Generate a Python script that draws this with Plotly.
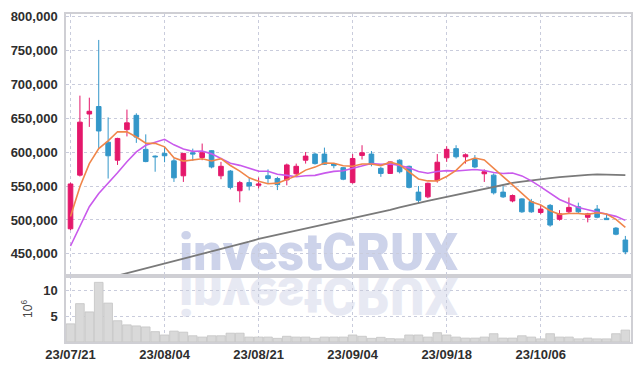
import plotly.graph_objects as go
from plotly.subplots import make_subplots

dates = [
    "2023-07-21", "2023-07-24", "2023-07-25", "2023-07-26", "2023-07-27", "2023-07-28",
    "2023-07-31", "2023-08-01", "2023-08-02", "2023-08-03", "2023-08-04",
    "2023-08-07", "2023-08-08", "2023-08-09", "2023-08-10", "2023-08-11",
    "2023-08-14", "2023-08-16", "2023-08-17", "2023-08-18", "2023-08-21",
    "2023-08-22", "2023-08-23", "2023-08-24", "2023-08-25", "2023-08-28",
    "2023-08-29", "2023-08-30", "2023-08-31", "2023-09-01", "2023-09-04",
    "2023-09-05", "2023-09-06", "2023-09-07", "2023-09-08", "2023-09-11",
    "2023-09-12", "2023-09-13", "2023-09-14", "2023-09-15", "2023-09-18",
    "2023-09-19", "2023-09-20", "2023-09-21", "2023-09-22", "2023-09-25",
    "2023-09-26", "2023-09-27", "2023-10-04", "2023-10-05", "2023-10-06",
    "2023-10-10", "2023-10-11", "2023-10-12", "2023-10-13", "2023-10-16",
    "2023-10-17", "2023-10-18", "2023-10-19", "2023-10-20",
]

open_ = [487000, 566000, 656000, 667000, 614500, 588000, 633000, 654000, 604000, 594000,
         598000, 587000, 565000, 599000, 592000, 602000, 565000, 572000, 543000, 555000,
         551000, 565000, 561000, 559000, 568000, 588000, 597000, 597000, 583000, 577000,
         555000, 595000, 597000, 576000, 568500, 588000, 579000, 541000, 534000, 558000,
         591500, 605000, 593000, 589000, 568000, 566000, 541000, 528000, 531000, 527000,
         511000, 521500, 501000, 512000, 519500, 504000, 516000, 502500, 488000, 470500]
high = [555000, 683000, 680000, 765000, 651000, 621000, 662500, 657000, 626000, 595000,
        607500, 590500, 598000, 605000, 612500, 603000, 585500, 573500, 557500, 562000,
        562500, 574500, 563500, 583000, 583000, 600000, 599000, 606500, 584000, 578000,
        597000, 610000, 601500, 578000, 586000, 589500, 580000, 550000, 555000, 597000,
        608500, 610000, 598000, 595500, 574500, 568500, 550000, 537500, 532000, 531000,
        522000, 523500, 514500, 533000, 525500, 510500, 522000, 507500, 489500, 476500]
low = [485000, 564000, 637000, 606000, 561000, 581000, 623000, 613500, 585000, 571000,
       585000, 556000, 556000, 587000, 588000, 576000, 560000, 545000, 526000, 543500,
       546500, 554500, 544000, 551000, 563500, 583000, 581500, 581000, 576000, 558500,
       553500, 589000, 579000, 563500, 568000, 568500, 546500, 525000, 532000, 555000,
       585500, 590500, 583000, 576500, 556000, 537500, 532500, 526000, 510500, 510500,
       508500, 490000, 499000, 509000, 509500, 496500, 502500, 500000, 477500, 449500]
close = [553000, 644000, 660000, 631000, 594500, 620000, 643000, 622000, 586000, 593000,
         594500, 562000, 598000, 597000, 599000, 578000, 579000, 548000, 555000, 550000,
         553000, 561000, 552000, 581000, 579000, 594000, 583000, 582000, 580000, 560000,
         590500, 599000, 582000, 568500, 585500, 571000, 548000, 529000, 554000, 585000,
         604000, 593000, 596000, 578000, 571000, 540000, 534000, 536000, 512000, 512000,
         516000, 492500, 509000, 518500, 512000, 509000, 504000, 500500, 479000, 453000]

ma5 = [505000, 549000, 583000, 605000, 616500, 629900, 629700, 622100, 613100, 612800,
       607700, 591500, 586700, 588900, 590100, 586800, 590200, 580200, 571800, 562000,
       557000, 553400, 554200, 559400, 565200, 573400, 577800, 583800, 583600, 579800,
       579100, 582300, 582300, 580000, 585100, 581200, 571000, 560400, 557500, 557400,
       564000, 573000, 586400, 591200, 588400, 575600, 563800, 551800, 538600, 526800,
       522000, 513700, 508300, 509600, 509600, 508200, 510500, 508800, 500900, 489100]
ma10 = [461700, 490000, 519500, 539000, 553800, 569400, 585600, 600200, 610000, 614700,
        618800, 610600, 604400, 601000, 601500, 597300, 590900, 583500, 580400, 576100,
        571900, 571800, 567200, 565600, 563600, 565200, 565600, 569000, 571500, 572500,
        576300, 580100, 583100, 581800, 582500, 580200, 576700, 571400, 568800, 571300,
        572600, 572000, 573400, 574400, 572900, 569800, 568400, 569100, 564900, 557600,
        548800, 538800, 530100, 524100, 518200, 515100, 512100, 508600, 505300, 499400]
ma_long = [400000, 404000, 407500, 411000, 414500, 418000, 421500, 425000, 428500, 432000,
           435500, 439000, 442500, 446000, 449500, 453000, 456500, 460000, 463500, 468000,
           472000, 475000, 478000, 481000, 484000, 487000, 490000, 493000, 496500, 500000,
           503000, 506000, 509000, 512000, 515000, 518500, 522000, 525000, 528000, 531000,
           534000, 537000, 540000, 543500, 546500, 549500, 552000, 554500, 556500, 558500,
           560000, 561500, 563000, 564500, 565500, 566500, 567000, 567000, 566500, 566000]

volume_m = [3.5, 7.4, 5.8, 11.5, 7.5, 4.1, 3.3, 3.1, 2.9, 2.0,
            1.35, 2.1, 1.9, 1.2, 0.95, 1.2, 1.2, 1.7, 1.7, 0.95,
            0.95, 0.95, 0.7, 1.1, 0.95, 0.95, 0.7, 0.95, 0.95, 0.95,
            1.35, 1.1, 0.7, 0.9, 0.65, 0.6, 1.35, 1.35, 0.95, 1.8,
            1.35, 0.95, 0.75, 0.75, 0.95, 1.6, 0.75, 0.75, 1.2, 0.95,
            0.6, 1.6, 0.95, 0.95, 0.6, 0.75, 0.6, 0.6, 1.6, 2.3]

tick_dates = ["2023-07-21", "2023-08-04", "2023-08-21", "2023-09-04", "2023-09-18", "2023-10-06"]
tick_labels = ["23/07/21", "23/08/04", "23/08/21", "23/09/04", "23/09/18", "23/10/06"]
price_ticks = [450000, 500000, 550000, 600000, 650000, 700000, 750000, 800000]
volume_ticks = [5, 10]

RED = "#E4186B"
BLUE = "#3397C9"
GRID = "#C9CCDC"
FRAME = "#CFCFD4"
TXT = "#2E2E2E"
FONT = "Liberation Sans"

vol_frac = 0.2016
fig = make_subplots(rows=2, cols=1, shared_xaxes=True, vertical_spacing=0,
                    row_heights=[1 - vol_frac, vol_frac])

fig.add_trace(go.Scatter(x=dates, y=ma_long, mode="lines",
                         line=dict(color="#7A7A7A", width=1.8), hoverinfo="skip"), row=1, col=1)
fig.add_trace(go.Candlestick(x=dates, open=open_, high=high, low=low, close=close,
                             increasing=dict(line=dict(color=RED, width=1), fillcolor=RED),
                             decreasing=dict(line=dict(color=BLUE, width=1), fillcolor=BLUE),
                             whiskerwidth=0), row=1, col=1)
fig.add_trace(go.Scatter(x=dates, y=ma10, mode="lines",
                         line=dict(color="#C95AEC", width=1.6), hoverinfo="skip"), row=1, col=1)
fig.add_trace(go.Scatter(x=dates, y=ma5, mode="lines",
                         line=dict(color="#F0864A", width=1.6), hoverinfo="skip"), row=1, col=1)
fig.add_trace(go.Bar(x=dates, y=volume_m, marker=dict(color="#D9D9D9",
                     line=dict(color="#C4C4C4", width=0.8))), row=2, col=1)

xr = [-0.48, 59.6]
common_x = dict(type="category", range=xr, tickvals=tick_dates, ticktext=tick_labels,
                showgrid=True, gridcolor=GRID, griddash="dot", gridwidth=1,
                showline=True, linecolor=FRAME, linewidth=1.5, mirror=True,
                rangeslider=dict(visible=False), ticks="", zeroline=False, automargin=False)
fig.update_xaxes(**common_x)
fig.update_xaxes(showticklabels=False, row=1, col=1)
fig.update_xaxes(showticklabels=True, tickfont=dict(family=FONT, size=13, color=TXT, weight="bold"),
                 row=2, col=1)

fig.update_yaxes(range=[417700, 803200], tickvals=price_ticks, tickformat=",",
                 showgrid=True, gridcolor=GRID, griddash="dot", gridwidth=1,
                 showline=True, linecolor=FRAME, linewidth=1.5, mirror=True, zeroline=False,
                 tickfont=dict(family=FONT, size=13, color=TXT, weight="bold"),
                 ticklabelstandoff=4, automargin=False, row=1, col=1)
fig.update_yaxes(range=[0, 12.75], tickvals=volume_ticks,
                 showgrid=True, gridcolor=GRID, griddash="dot", gridwidth=1,
                 showline=True, linecolor=FRAME, linewidth=1.5, mirror=True, zeroline=False,
                 tickfont=dict(family=FONT, size=13, color=TXT, weight="bold"),
                 ticklabelstandoff=4, automargin=False,
                 title=dict(text="10<sup>6</sup>", font=dict(family=FONT, size=12, color="#444"),
                            standoff=8),
                 row=2, col=1)

wm = dict(text="investCRUX", xref="paper", yref="paper", x=0.448, y=vol_frac,
          xanchor="center", yanchor="bottom", showarrow=False, yshift=-9)
fig.add_annotation(**wm, font=dict(family="Roboto", size=52, color="#CDD3EA", weight=900))
fig.add_annotation(**wm, font=dict(family="Roboto", size=52, color="#E7E9F3", weight=900))

fig.update_layout(width=639, height=370, margin=dict(l=66, r=8, t=14, b=28, autoexpand=False),
                  paper_bgcolor="white", plot_bgcolor="white", showlegend=False,
                  bargap=0.08)

post = """
document.body.style.margin = '0';
document.body.style.padding = '0';
var gd = document.getElementById('{plot_id}');
var below = gd.querySelector('.main-svg .layer-below');
var a0 = gd.querySelector('g.annotation[data-index="0"]');
var a1 = gd.querySelector('g.annotation[data-index="1"]');
if (a1) { a1.setAttribute('transform', 'translate(0,548) scale(1,-1)'); below.appendChild(a1); }
if (a0) { below.appendChild(a0); }
"""
fig.write_html("out.html", post_script=post, config={"displayModeBar": False})
